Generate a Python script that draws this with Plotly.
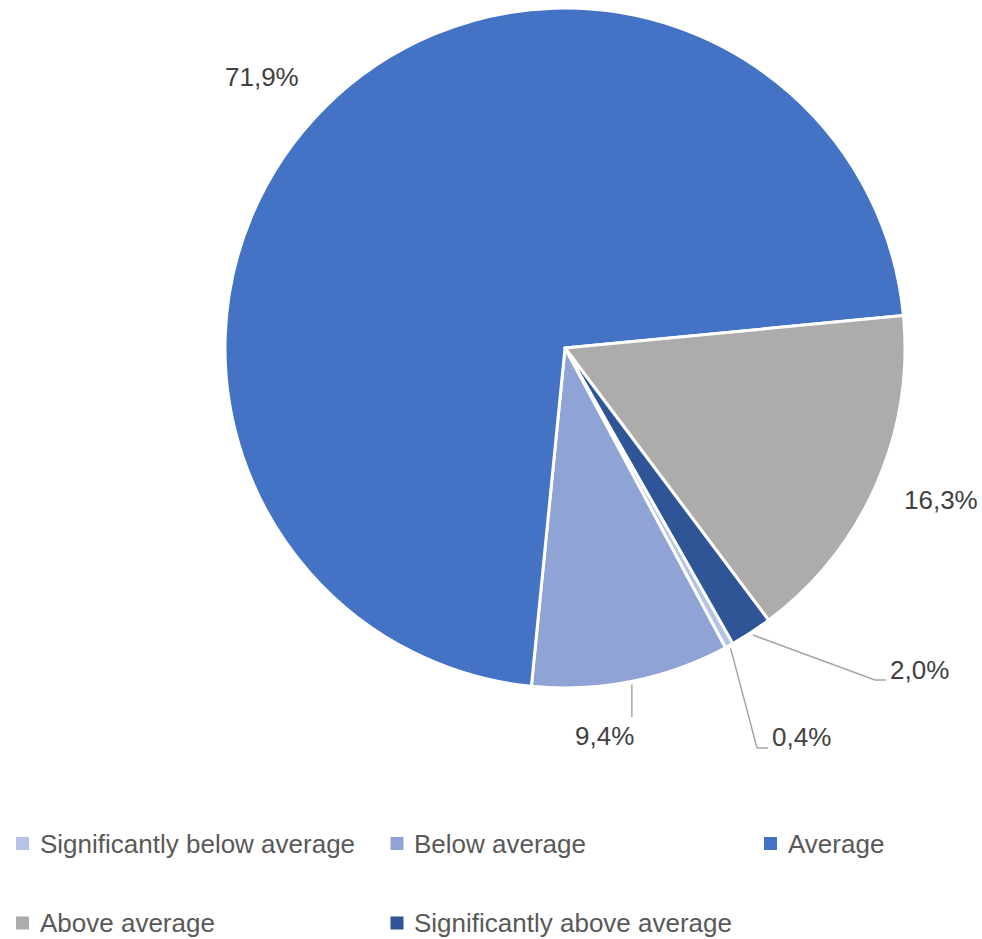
import math
import plotly.graph_objects as go

# Share of respondents per rating category
categories = [
    "Significantly below average",
    "Below average",
    "Average",
    "Above average",
    "Significantly above average",
]
shares = [0.4, 9.4, 71.9, 16.3, 2.0]
slice_colors = ["#B4C3E6", "#8FA4D5", "#4472C4", "#AEABAB", "#2F5597"]

# Layout constants (pixels)
W, H = 982, 939
CX, CY, R = 565, 348, 340
ROTATION = 150.4
FONT = "Liberation Sans, Arial, sans-serif"
FONT_SIZE = 26
LABEL_COLOR = "#404040"
LEGEND_COLOR = "#595959"
LEADER_COLOR = "#A6A6A6"

# Text centre of each value label
label_px = {
    "Significantly below average": (801, 737),
    "Below average": (604, 736),
    "Average": (262, 77),
    "Above average": (941, 500),
    "Significantly above average": (919, 670),
}
# Leader-line bends after leaving the slice edge (None = keep x of start)
leader_px = {
    "Significantly below average": [(757, 748), (768, 748)],
    "Below average": [(None, 717)],
    "Significantly above average": [(875, 680), (886, 680)],
}
# Legend grid: (marker centre x, text left x, row centre y)
legend_cells = [
    (22.5, 38, 843.5),
    (397, 412, 843.5),
    (770.5, 786, 843.5),
    (22.5, 38, 923),
    (397, 412, 923),
]
MARK = 13


def px(x):
    return x / W


def py(y):
    return 1 - y / H


fig = go.Figure(
    go.Pie(
        labels=categories,
        values=shares,
        sort=False,
        direction="clockwise",
        rotation=ROTATION,
        marker=dict(colors=slice_colors, line=dict(color="white", width=3)),
        textinfo="none",
        hoverinfo="label+percent",
        domain=dict(x=[px(CX - R), px(CX + R)], y=[py(CY + R), py(CY - R)]),
        showlegend=False,
    )
)

annotations = []
shapes = []
total = sum(shares)
angle = ROTATION
for cat, val in zip(categories, shares):
    span = 360 * val / total
    mid = math.radians(angle + span / 2)
    angle += span
    tx, ty = label_px[cat]
    annotations.append(
        dict(
            x=px(tx), y=py(ty), xref="paper", yref="paper",
            text=f"{val:.1f}%".replace(".", ","),
            showarrow=False, xanchor="center", yanchor="middle",
            font=dict(family=FONT, size=FONT_SIZE, color=LABEL_COLOR),
        )
    )
    if cat in leader_px:
        sx = CX + (R + 3) * math.sin(mid)
        sy = CY - (R + 3) * math.cos(mid)
        pts = [(sx, sy)] + [((sx if x is None else x), y) for x, y in leader_px[cat]]
        path = "M " + " L ".join(f"{px(x):.5f},{py(y):.5f}" for x, y in pts)
        shapes.append(
            dict(type="path", xref="paper", yref="paper", path=path,
                 line=dict(color=LEADER_COLOR, width=1.5))
        )

# Legend drawn as a fixed grid of swatches and names
for cat, col, (mx, tx, ry) in zip(categories, slice_colors, legend_cells):
    shapes.append(
        dict(type="rect", xref="paper", yref="paper",
             x0=px(mx - MARK / 2), x1=px(mx + MARK / 2),
             y0=py(ry + MARK / 2), y1=py(ry - MARK / 2),
             fillcolor=col, line=dict(width=0))
    )
    annotations.append(
        dict(x=px(tx), y=py(ry), xref="paper", yref="paper", text=cat,
             showarrow=False, xanchor="left", yanchor="middle",
             font=dict(family=FONT, size=FONT_SIZE, color=LEGEND_COLOR))
    )

fig.update_layout(
    width=W, height=H,
    margin=dict(l=0, r=0, t=0, b=0),
    paper_bgcolor="white", plot_bgcolor="white",
    showlegend=False,
    annotations=annotations,
    shapes=shapes,
)

fig.write_html("out.html")
